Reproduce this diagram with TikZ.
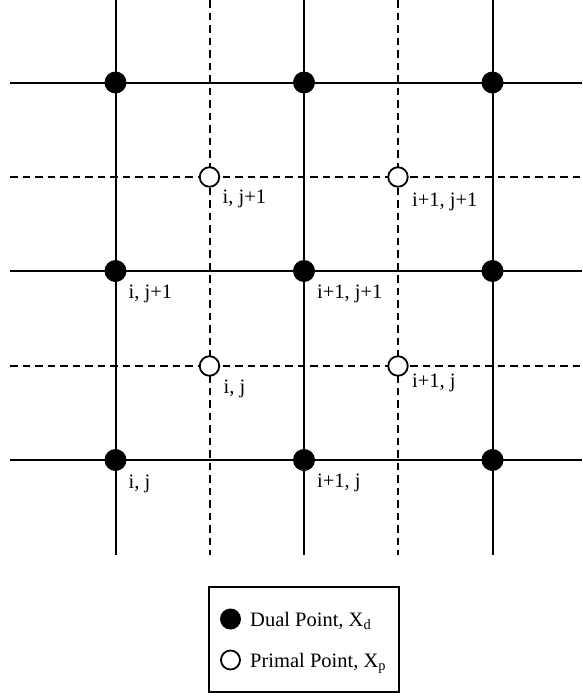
\documentclass[tikz,border=0pt]{standalone}
\usepackage{fontspec}
\setmainfont{Liberation Serif}
\begin{document}
\begin{tikzpicture}[x=1pt,y=-1pt,
  solidline/.style={line width=2pt,black},
  dashline/.style={line width=2pt,black,dash pattern=on 7.5pt off 5pt},
  dualpt/.style={circle,fill=black,draw=none,minimum size=22pt,inner sep=0pt},
  primalpt/.style={circle,fill=white,draw=black,line width=1.8pt,minimum size=19.5pt,inner sep=0pt},
  lbl/.style={anchor=base west,inner sep=0pt,font=\fontsize{20.5}{24}\selectfont},
  legendbox/.style={draw=black,line width=2pt}]
\useasboundingbox (0,0) rectangle (582,696);
% grid line end coordinates
\foreach \n/\x in {a/115.5,b/304,c/492.5}{
  \coordinate (vt\n) at (\x,0); \coordinate (vb\n) at (\x,555);}
\foreach \n/\x in {a/209.5,b/398}{
  \coordinate (dvt\n) at (\x,0); \coordinate (dvb\n) at (\x,555);}
\foreach \n/\y in {a/82.5,b/271,c/460}{
  \coordinate (hl\n) at (10,\y); \coordinate (hr\n) at (582,\y);}
\foreach \n/\y in {a/177,b/366}{
  \coordinate (dhl\n) at (10,\y); \coordinate (dhr\n) at (582,\y);}
% dashed lines
\foreach \n in {a,b}{
  \draw[dashline] (dvt\n) -- (dvb\n);
  \draw[dashline] (dhl\n) -- (dhr\n);}
% solid lines
\foreach \n in {a,b,c}{
  \draw[solidline] (vt\n) -- (vb\n);
  \draw[solidline] (hl\n) -- (hr\n);}
% dual points
\foreach \cx/\x in {a/115.5,b/304,c/492.5}{
  \foreach \cy/\y in {a/82.5,b/271,c/460}{
    \node[dualpt] (d\cx\cy) at (\x,\y) {};}}
% primal points
\foreach \cx/\x in {a/209.5,b/398}{
  \foreach \cy/\y in {a/177,b/366}{
    \node[primalpt] (p\cx\cy) at (\x,\y) {};}}
% labels of dual points
\node[lbl] (ldab) at ([shift={(13,27)}]dab.center) {i, j+1};
\node[lbl] (ldbb) at ([shift={(13,27)}]dbb.center) {i+1, j+1};
\node[lbl] (ldac) at ([shift={(13,28)}]dac.center) {i, j};
\node[lbl] (ldbc) at ([shift={(13,27)}]dbc.center) {i+1, j};
% labels of primal points
\node[lbl] (lpaa) at ([shift={(13,26)}]paa.center) {i, j+1};
\node[lbl] (lpba) at ([shift={(14,29)}]pba.center) {i+1, j+1};
\node[lbl] (lpab) at ([shift={(14,27)}]pab.center) {i, j};
\node[lbl] (lpbb) at ([shift={(14,21)}]pbb.center) {i+1, j};
% legend
\draw[legendbox] (209,587) rectangle (399,692);
\node[dualpt,minimum size=21pt] (legd) at (230.5,619) {};
\node[primalpt,minimum size=19pt] (legp) at (230.5,660) {};
\node[lbl] (legdt) at (250,626.5) {Dual Point, X\textsubscript{d}};
\node[lbl] (legpt) at (250,667.5) {Primal Point, X\textsubscript{p}};
\end{tikzpicture}
\end{document}
